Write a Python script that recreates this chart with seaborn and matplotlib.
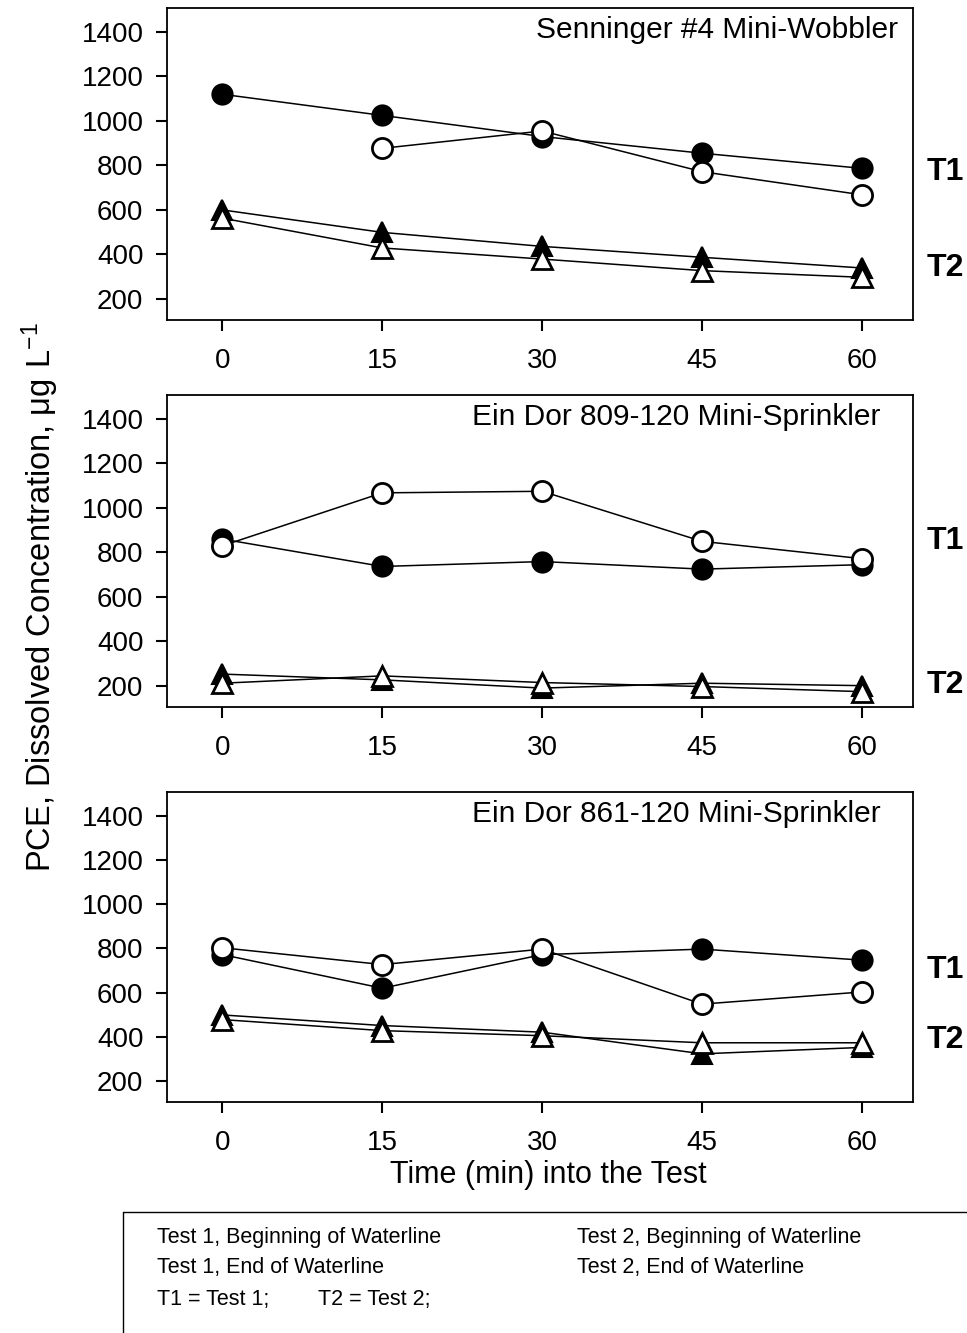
import numpy as np
import pandas as pd
import matplotlib
matplotlib.use("Agg")
import matplotlib.pyplot as plt
from matplotlib.lines import Line2D
import seaborn as sns

# ---------------- data ----------------
time_min = [0, 15, 30, 45, 60]
panel_titles = ["Senninger #4 Mini-Wobbler",
                "Ein Dor 809-120 Mini-Sprinkler",
                "Ein Dor 861-120 Mini-Sprinkler"]

# Panel 1: Senninger #4 Mini-Wobbler
p1_t1_begin = [1120, 1025, 930, 855, 787]
p1_t1_end = [np.nan, 877, 955, 772, 668]
p1_t2_begin = [600, 499, 436, 387, 339]
p1_t2_end = [563, 429, 379, 327, 297]

# Panel 2: Ein Dor 809-120 Mini-Sprinkler
p2_t1_begin = [860, 737, 759, 725, 745]
p2_t1_end = [830, 1068, 1075, 850, 772]
p2_t2_begin = [253, 227, 190, 212, 201]
p2_t2_end = [212, 245, 215, 197, 174]

# Panel 3: Ein Dor 861-120 Mini-Sprinkler
p3_t1_begin = [772, 620, 772, 797, 747]
p3_t1_end = [803, 727, 797, 548, 603]
p3_t2_begin = [499, 451, 421, 323, 352]
p3_t2_end = [478, 428, 405, 373, 373]

series_labels = ["Test 1, Beginning of Waterline", "Test 1, End of Waterline",
                 "Test 2, Beginning of Waterline", "Test 2, End of Waterline"]
y_ticks = [200, 400, 600, 800, 1000, 1200, 1400]
x_ticks = [0, 15, 30, 45, 60]

panels = [
    [p1_t1_begin, p1_t1_end, p1_t2_begin, p1_t2_end],
    [p2_t1_begin, p2_t1_end, p2_t2_begin, p2_t2_end],
    [p3_t1_begin, p3_t1_end, p3_t2_begin, p3_t2_end],
]

# ---------------- style ----------------
sns.set_style("ticks")
plt.rcParams['font.family'] = ['Liberation Sans', 'DejaVu Sans']
plt.rcParams['axes.linewidth'] = 1.3
plt.rcParams['text.color'] = 'black'
plt.rcParams['axes.labelcolor'] = 'black'
plt.rcParams['xtick.color'] = 'black'
plt.rcParams['ytick.color'] = 'black'

W, H = 967, 1333
fig = plt.figure(figsize=(W / 100, H / 100), dpi=100)

ax_left, ax_right = 167, 913
panel_px = [(8, 320), (395, 707), (792, 1102)]
title_x = [0.98, 0.956, 0.956]
t_label_y = [(172, 268), (541, 685), (970, 1040)]

marker_styles = [
    dict(marker="o", mfc="black", mec="black", ms=14.5, mew=1.5),
    dict(marker="o", mfc="white", mec="black", ms=14.5, mew=2.0),
    dict(marker="^", mfc="black", mec="black", ms=14.5, mew=1.5),
    dict(marker="^", mfc="white", mec="black", ms=14.5, mew=2.0),
]

for i, (series, (top, bot)) in enumerate(zip(panels, panel_px)):
    ax = fig.add_axes([ax_left / W, 1 - bot / H, (ax_right - ax_left) / W, (bot - top) / H])
    for j, vals in enumerate(series):
        df = pd.DataFrame({"time": time_min, "conc": vals}).dropna()
        st = marker_styles[j]
        sns.lineplot(data=df, x="time", y="conc", ax=ax, color="black", lw=1.1,
                     marker=st["marker"], markerfacecolor=st["mfc"],
                     markeredgecolor=st["mec"], markersize=st["ms"],
                     markeredgewidth=st["mew"], legend=False, zorder=3 + j,
                     clip_on=False)
    ax.set_xlim(-5.2, 64.8)
    ax.set_ylim(105, 1508)
    ax.set_xticks(x_ticks)
    ax.set_yticks(y_ticks)
    ax.set_xlabel("")
    ax.set_ylabel("")
    ax.tick_params(axis="both", direction="out", length=8, width=1.5,
                   labelsize=20, colors="black")
    ax.tick_params(axis="x", pad=12)
    ax.tick_params(axis="y", pad=9)
    for sp in ax.spines.values():
        sp.set_linewidth(1.3)
        sp.set_color("black")
    ax.text(title_x[i], 0.93, panel_titles[i], transform=ax.transAxes,
            ha="right", va="center", fontsize=21.5, color="black")
    # T1 / T2 annotations at the right of each panel
    fig.text(927 / W, 1 - t_label_y[i][0] / H, "T1", fontsize=23, fontweight="bold",
             ha="left", va="center", color="black")
    fig.text(927 / W, 1 - t_label_y[i][1] / H, "T2", fontsize=23, fontweight="bold",
             ha="left", va="center", color="black")

# shared axis labels
fig.text(40 / W, 1 - 597 / H, r"PCE, Dissolved Concentration, $\mathregular{\mu g\ L^{-1}}$",
         rotation=90, ha="center", va="center", fontsize=23.5, color="black")
fig.text(548 / W, 1 - 1175 / H, "Time (min) into the Test", ha="center", va="center",
         fontsize=22, color="black")

# legend box (markers absent in reference; text only)
fig.add_artist(Line2D([123 / W, 123 / W], [1 - 1212 / H, 0], color="black", lw=1.0))
fig.add_artist(Line2D([123 / W, 1.0], [1 - 1212 / H, 1 - 1212 / H], color="black", lw=1.0))
lg = dict(fontsize=15.5, va="center", color="black")
fig.text(157 / W, 1 - 1237 / H, series_labels[0], **lg)
fig.text(157 / W, 1 - 1267 / H, series_labels[1], **lg)
fig.text(577 / W, 1 - 1237 / H, series_labels[2], **lg)
fig.text(577 / W, 1 - 1267 / H, series_labels[3], **lg)
fig.text(157 / W, 1 - 1300 / H, "T1 = Test 1;", **lg)
fig.text(318 / W, 1 - 1300 / H, "T2 = Test 2;", **lg)

fig.savefig("out.png", dpi=100, facecolor="white")
